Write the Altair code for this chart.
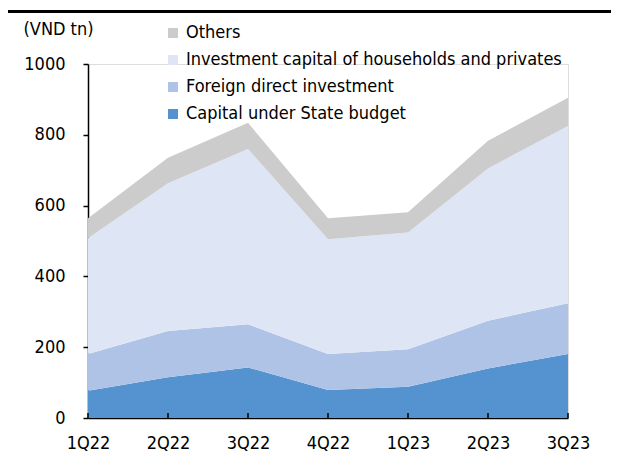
import altair as alt
import pandas as pd

quarters = ["1Q22", "2Q22", "3Q22", "4Q22", "1Q23", "2Q23", "3Q23"]
state_budget = [77, 115, 143, 79, 88, 140, 181]
fdi = [104, 131, 122, 102, 106, 135, 143]
households = [327, 417, 495, 324, 330, 430, 501]
others = [56, 72, 74, 59, 57, 78, 80]

series_names = [
    "Capital under State budget",
    "Foreign direct investment",
    "Investment capital of households and privates",
    "Others",
]
series_values = [state_budget, fdi, households, others]
series_colors = ["#5592D0", "#AEC3E6", "#DEE6F6", "#CCCCCC"]

rows = []
for si, (name, vals) in enumerate(zip(series_names, series_values)):
    for q, v in zip(quarters, vals):
        rows.append({"quarter": q, "series": name, "value": v, "stack": si})
df = pd.DataFrame(rows)

FONT = "DejaVu Sans Condensed"
FS = 18
W, H = 480, 354

legend_domain = series_names[::-1]
legend_range = series_colors[::-1]

area = alt.Chart(df).mark_area(opacity=1).encode(
    x=alt.X("quarter:O", sort=quarters,
            scale=alt.Scale(type="point", padding=0),
            axis=alt.Axis(title=None, labelAngle=0, labelFontSize=FS, labelFont=FONT,
                          labelColor="#000", domainColor="#000", domainWidth=1.5,
                          ticks=False, labelPadding=16)),
    y=alt.Y("value:Q", stack="zero",
            scale=alt.Scale(domain=[0, 1000]),
            axis=alt.Axis(values=[0, 200, 400, 600, 800, 1000], grid=False, format="d",
                          title="(VND tn)", titleAngle=0, titleFont=FONT,
                          titleFontSize=FS, titleFontWeight="normal", titleColor="#000",
                          titleX=-65, titleY=-35, titleAlign="left", titleBaseline="middle",
                          labelFontSize=FS, labelFont=FONT, labelColor="#000",
                          domainColor="#000", domainWidth=1.5, tickColor="#000",
                          tickSize=5, tickWidth=1.5, labelPadding=18)),
    color=alt.Color("series:N",
                    scale=alt.Scale(domain=legend_domain, range=legend_range),
                    legend=alt.Legend(title=None, orient="none", legendX=76, legendY=-40,
                                      padding=0,
                                      symbolType="square", symbolSize=100,
                                      symbolStrokeWidth=0, labelFont=FONT,
                                      labelFontSize=FS, labelColor="#000",
                                      rowPadding=9, labelOffset=4, labelLimit=500)),
    order=alt.Order("stack:Q", sort="ascending"),
)

tick_df = pd.DataFrame({"quarter": quarters})
xticks = alt.Chart(tick_df).mark_rule(color="#000", strokeWidth=1.5).encode(
    x=alt.X("quarter:O", sort=quarters),
    y=alt.value(H),
    y2=alt.value(H - 5),
)

topline = alt.Chart(pd.DataFrame({"a": [0]})).mark_rule(color="#000", strokeWidth=3).encode(
    x=alt.value(-80), x2=alt.value(523), y=alt.value(-52.5)
)

chart = alt.layer(area, xticks, topline).properties(
    width=W, height=H,
    autosize=alt.AutoSizeParams(type="none"),
    padding={"left": 80, "top": 56, "right": 43, "bottom": 33},
).configure_view(stroke=None).configure(background="#ffffff")

chart.save("out.html", embed_options={"renderer": "svg", "actions": False})
